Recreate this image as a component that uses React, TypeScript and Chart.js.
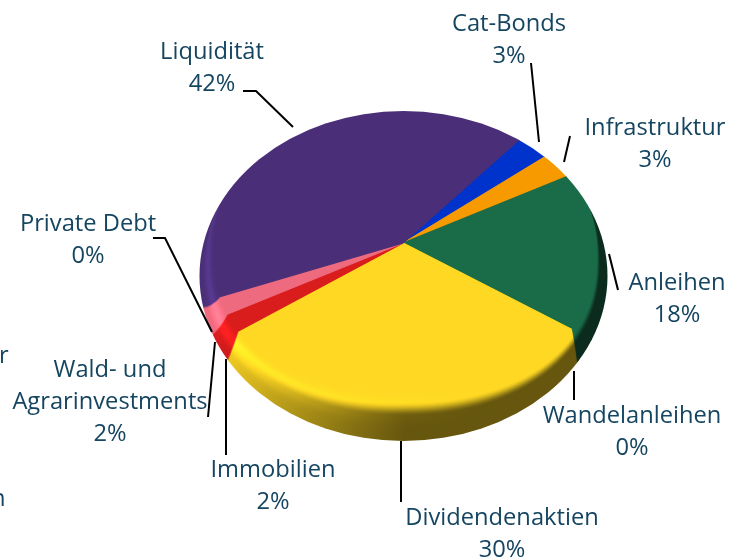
import React, { useEffect, useRef } from "react";
import { Chart, registerables } from "chart.js";

Chart.register(...registerables);

const categories = ["Cat-Bonds", "Infrastruktur", "Anleihen", "Wandelanleihen", "Dividendenaktien", "Immobilien", "Wald- und\nAgrarinvestments", "Private Debt", "Liquidität"];
const shares = [3, 3, 18, 0, 30, 2, 2, 0, 42];
const sliceColors = ["#0033CC", "#F79A00", "#1A6B48", "#8A8A8A", "#FFD823", "#D91C1C", "#EE6A7E", "#777777", "#4A2F78"];

const FONT = '23.7px "Open Sans"';
const INK = "#154560";
const LINE_H = 32;

// Per-category label placement: centre x, first baseline
const labelPos = [
  [509, 31], [655, 135], [677, 290], [632, 423], [502, 525], [273, 477], [110, 377], [88, 231], [212, 59],
];
const leaders = [
  [[531, 63], [539, 142]],
  [[570, 136], [564, 162]],
  [[609, 254], [618, 290]],
  [[574, 371], [574, 400]],
  [[401, 441], [401, 502]],
  [[226, 359], [226, 455]],
  [[215, 342], [208, 417]],
  [[153, 238], [165, 238], [212, 332]],
  [[243, 91], [256, 91], [293, 127]],
];
const clippedFragments: [string, number, number][] = [["r", -1, 363], ["n", -9, 506]];

const OUTER = { x: 403.5, y: 276, rx: 204, ry: 165 };
const INNER = { x: 404, y: 252, rx: 190, ry: 141 };
const INNER_P = 2.3;
const TILT = 0.72;
const OVERSCALE = 1.3;
const DEG = Math.PI / 180;

const clamp = (v: number, a = 0, b = 1) => Math.min(b, Math.max(a, v));
const smooth = (a: number, b: number, v: number) => {
  const t = clamp((v - a) / (b - a));
  return t * t * (3 - 2 * t);
};
const ringAt = (u: number) => ({
  x: INNER.x + (OUTER.x - INNER.x) * u,
  y: INNER.y + (OUTER.y - INNER.y) * u,
  rx: INNER.rx + (OUTER.rx - INNER.rx) * u,
  ry: INNER.ry + (OUTER.ry - INNER.ry) * u,
  p: INNER_P - (INNER_P - 2) * u,
});
const inside = (px: number, py: number, u: number) => {
  const r = ringAt(u);
  return Math.pow(Math.abs(px - r.x) / r.rx, r.p) + Math.pow(Math.abs(py - r.y) / r.ry, r.p) <= 1;
};
// How far the slice borders bend on the rim, degrees, at the outer edge
const rimBend = (deg: number) => {
  if (deg <= 140) return 0;
  if (deg <= 169.5) return -7.5 * ((deg - 140) / 29.5);
  if (deg <= 200) return -7.5;
  if (deg <= 230) return -7.5 * (1 - (deg - 200) / 30);
  return 0;
};

const discPlugin = {
  id: "disc",
  beforeDatasetsDraw(chart: any) {
    const { ctx } = chart;
    const arc = chart.getDatasetMeta(0).data[0];
    ctx.save();
    ctx.beginPath();
    ctx.ellipse(OUTER.x, OUTER.y, OUTER.rx, OUTER.ry, 0, 0, Math.PI * 2);
    ctx.clip();
    ctx.translate(arc.x, arc.y);
    ctx.scale(OVERSCALE, OVERSCALE * TILT);
    ctx.translate(-arc.x, -arc.y);
  },
  afterDatasetsDraw(chart: any) {
    const { ctx } = chart;
    ctx.restore();
    const x0 = Math.floor(OUTER.x - OUTER.rx) - 2;
    const y0 = Math.floor(OUTER.y - OUTER.ry) - 2;
    const w = Math.ceil(OUTER.rx * 2) + 4;
    const h = Math.ceil(OUTER.ry * 2) + 4;
    const img = ctx.getImageData(x0, y0, w, h);
    const d = img.data;
    const src = new Uint8ClampedArray(d);
    const sample = (sx: number, sy: number, c: number) => {
      const fx = sx - x0 - 0.5, fy = sy - y0 - 0.5;
      const ix = Math.floor(fx), iy = Math.floor(fy);
      const ax = fx - ix, ay = fy - iy;
      const at = (a: number, b: number) => src[(b * w + a) * 4 + c];
      return (at(ix, iy) * (1 - ax) + at(ix + 1, iy) * ax) * (1 - ay) + (at(ix, iy + 1) * (1 - ax) + at(ix + 1, iy + 1) * ax) * ay;
    };
    for (let j = 0; j < h; j++) {
      for (let i = 0; i < w; i++) {
        const k = (j * w + i) * 4;
        if (src[k + 3] === 0) continue;
        const px = x0 + i + 0.5;
        const py = y0 + j + 0.5;
        if (inside(px, py, 0)) continue;
        let lo = 0, hi = 1;
        for (let n = 0; n < 9; n++) {
          const m = (lo + hi) / 2;
          if (inside(px, py, m)) hi = m; else lo = m;
        }
        const u = hi;
        const r = ringAt(u);
        let theta = Math.atan2((py - r.y) / r.ry, (px - r.x) / r.rx);
        if (theta < -Math.PI / 2) theta += Math.PI * 2; // range -90..270 deg
        const mapped = theta + rimBend(theta / DEG) * u * DEG;
        const c = Math.cos(mapped), s = Math.sin(mapped);
        const scale = 1 / Math.pow(Math.pow(Math.abs(c), INNER_P) + Math.pow(Math.abs(s), INNER_P), 1 / INNER_P);
        const sx = clamp(INNER.x + INNER.rx * c * scale, x0 + 1, x0 + w - 3);
        const sy = clamp(INNER.y + INNER.ry * s * scale, y0 + 1, y0 + h - 3);
        const darkAmt = clamp((Math.cos(theta - 40 * DEG) + 0.45) / 1.1);
        const dark = 1 - 0.6 * darkAmt * smooth(0.18, 0.48, u);
        const hl = Math.pow(clamp(Math.cos(theta - 150 * DEG)), 1.5);
        const bump = Math.exp(-Math.pow((u - 0.42) / 0.22, 2));
        const m = dark * (1 + 0.22 * hl * bump);
        const useSample = src[(Math.floor(sy - y0) * w + Math.floor(sx - x0)) * 4 + 3] > 200;
        d[k] = clamp((useSample ? sample(sx, sy, 0) : src[k]) * m, 0, 255);
        d[k + 1] = clamp((useSample ? sample(sx, sy, 1) : src[k + 1]) * m, 0, 255);
        d[k + 2] = clamp((useSample ? sample(sx, sy, 2) : src[k + 2]) * m, 0, 255);
      }
    }
    ctx.putImageData(img, x0, y0);
  },
  afterDraw(chart: any) {
    const { ctx } = chart;
    ctx.save();
    ctx.strokeStyle = "#000000";
    ctx.lineWidth = 2;
    leaders.forEach((pts) => {
      ctx.beginPath();
      pts.forEach(([x, y], i) => (i ? ctx.lineTo(x, y) : ctx.moveTo(x, y)));
      ctx.stroke();
    });
    ctx.fillStyle = INK;
    ctx.font = FONT;
    ctx.textAlign = "center";
    ctx.textBaseline = "alphabetic";
    categories.forEach((name, i) => {
      const [x, y] = labelPos[i];
      const lines = [...name.split("\n"), `${shares[i]}%`];
      lines.forEach((line, n) => ctx.fillText(line, x, y + n * LINE_H));
    });
    ctx.textAlign = "left";
    clippedFragments.forEach(([s, x, y]) => ctx.fillText(s, x, y));
    ctx.restore();
  },
};

export default function App() {
  const ref = useRef<HTMLCanvasElement>(null);
  useEffect(() => {
    const chart = new Chart(ref.current as HTMLCanvasElement, {
      type: "pie",
      data: {
        labels: categories,
        datasets: [{
          data: shares,
          backgroundColor: sliceColors,
          borderColor: sliceColors,
          borderWidth: shares.map((v) => (v > 0 ? 1 : 0)),
        }],
      },
      options: {
        responsive: false,
        devicePixelRatio: 1,
        animation: false,
        rotation: 39,
        layout: { padding: { left: 64, bottom: 71 } },
        plugins: { legend: { display: false }, tooltip: { enabled: false }, title: { display: false } },
      },
      plugins: [discPlugin],
    } as any);
    return () => chart.destroy();
  }, []);
  return (
    <div style={{ position: "absolute", left: 0, top: 0, width: 742, height: 557, overflow: "hidden", background: "#fff" }}>
      <canvas ref={ref} width={742} height={557} style={{ display: "block" }} />
    </div>
  );
}
